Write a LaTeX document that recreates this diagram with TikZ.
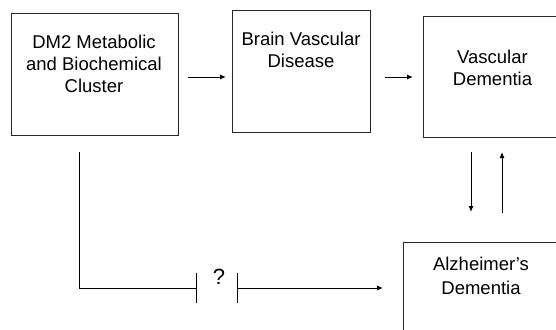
\documentclass[tikz,border=0pt]{standalone}
\usepackage{fontspec}
\setmainfont{Liberation Sans}
\usetikzlibrary{arrows.meta}
\begin{document}
\begin{tikzpicture}[x=1pt,y=-1pt,
  box/.style={draw=black!85,line width=1pt,inner sep=0,anchor=north west},
  lbl/.style={anchor=north,inner sep=0,align=center,font=\fontsize{18.5}{22}\selectfont},
  arr/.style={line width=1pt,-{Latex[length=6pt,width=5pt]}},
  ln/.style={line width=1pt}]
\useasboundingbox (0,0) rectangle (556,329);
\node[box,minimum width=167pt,minimum height=122pt] (dm) at (11,13) {};
\node[box,minimum width=138pt,minimum height=121pt] (bvd) at (232,10.5) {};
\node[box,minimum width=140pt,minimum height=121pt] (vd) at (423,16) {};
\node[box,minimum width=160pt,minimum height=120pt] (ad) at (403,242) {};
\node[lbl] (t1) at (94,35) {DM2 Metabolic\\and Biochemical\\Cluster};
\node[lbl] (t2) at (301,32) {Brain Vascular\\Disease};
\node[lbl] (t3) at (492.5,50) {Vascular\\Dementia};
\node[lbl,font=\fontsize{18.5}{24}\selectfont] (t4) at (481,257) {Alzheimer’s\\Dementia};
\draw[arr] ([xshift=9pt]dm.east |- 0,77) -- ([xshift=-6pt]bvd.west |- 0,77);
\draw[arr] ([xshift=14pt]bvd.east |- 0,77) -- ([xshift=-10pt]vd.west |- 0,77);
\draw[arr] (471,152) -- (471,212);
\draw[arr] (502,213) -- (502,152);
\coordinate (s) at (79,152);
\coordinate (c) at (79,288);
\coordinate (g1) at (196,288);
\coordinate (g2) at (237,288);
\draw[ln] (s) -- (c) -- (g1);
\draw[ln] (196,273) -- (196,303);
\draw[ln] (237,273) -- (237,303);
\node[inner sep=0,font=\fontsize{22}{22}\selectfont] (q) at (219,277) {?};
\draw[arr] (g2) -- ([xshift=-20pt]ad.west |- g2);
\end{tikzpicture}
\end{document}
